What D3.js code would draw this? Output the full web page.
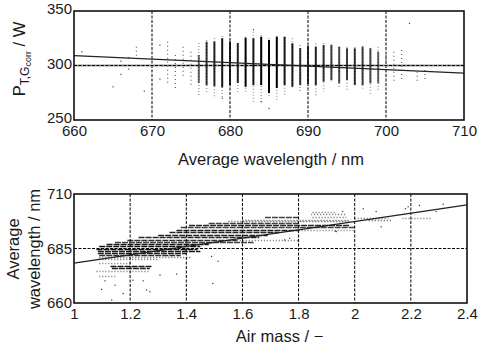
<!DOCTYPE html>
<meta charset="utf-8">
<script src="https://d3js.org/d3.v7.min.js"></script>
<style>
  body { margin: 0; background: #fff; }
  text { font-family: "Liberation Sans", Arial, sans-serif; fill: #1a1a1a; }
</style>
<svg></svg>

<script>
    // ---- top panel: power vs average wavelength ----
    const topXTicks = [660, 670, 680, 690, 700, 710];
    const topYTicks = [250, 300, 350];

    // dense columns, one per integer wavelength (W)
    const colWl     = [676, 677, 678, 679, 680, 681, 682, 683, 684, 685, 686, 687, 688, 689, 690, 691, 692, 693, 694, 695, 696, 697, 698, 699];
    const colCoreHi = [309.6, 321.8, 322, 325, 322, 320.6, 325.5, 325, 326.4, 323.4, 326.4, 326.4, 320.4, 316, 318, 317.2, 318.8, 318.8, 317.2, 315.8, 315.8, 317.2, 315.8, 312.7];
    const colCoreLo = [284, 282, 281, 280, 282, 284, 280.5, 282, 282, 274.8, 279.4, 282, 280.5, 282, 283, 282, 285.1, 286.7, 283.7, 286.7, 282, 282, 283.7, 283.7];
    const colTailHi = [320.6, 323.4, 325, 327, 325, 320.6, 326.4, 331, 328, 325, 327.3, 326.4, 325, 318.8, 321, 320.4, 320.4, 319.5, 317.2, 317.2, 317, 318.2, 316.3, 317.2];
    const colTailLo = [273, 274.8, 271, 271, 275, 276, 274.8, 266.8, 265.6, 271.4, 266.8, 271.4, 279, 276, 278, 271.4, 276, 283.7, 280.5, 277.5, 282, 279, 273.9, 277.5];
    const colDensity = [0.6, 0.8, 0.85, 0.9, 0.85, 0.85, 1, 0.9, 1, 1, 1, 0.9, 0.9, 0.8, 0.8, 0.85, 0.8, 0.75, 0.7, 0.75, 0.8, 0.75, 0.7, 0.6];

    // sparse columns
    const sparseWl = [668, 672, 673, 674, 675, 700, 701, 702, 704, 705];
    const sparseHi = [317.2, 321.8, 309.6, 317.2, 312.7, 309.6, 312.7, 314.2, 294.3, 295.9];
    const sparseLo = [306.9, 284, 279.4, 288.8, 279.6, 288.5, 283.7, 286.7, 285.1, 286.7];

    // isolated points
    const topDotWl = [661, 665, 666, 666, 667, 667, 669, 671, 671, 703, 685, 684, 679, 683];
    const topDotP  = [312.7, 280.5, 304.1, 292, 296.8, 307.2, 276.6, 318.8, 287.6, 338.7, 260.7, 266.8, 270, 333];

    const topFitWl = [660, 710];
    const topFitP  = [309, 293];

    // ---- bottom panel: average wavelength vs air mass ----
    const botXTicks = [1, 1.2, 1.4, 1.6, 1.8, 2, 2.2, 2.4];
    const botYTicks = [660, 685, 710];

    // horizontal streaks: wavelength, air mass from, air mass to, density
    const streakWl   = [701.6, 700.6, 699.5, 699.5, 699, 699, 698.3, 698, 697.5, 696.7, 695.7, 694.9, 693.7, 693.7, 692.6, 691.4, 690.3, 689.1, 689.1, 688, 687, 686, 685, 684, 683, 682, 681, 680, 678.5, 677, 676, 674.5, 672.5];
    const streakFrom = [1.85, 1.845, 1.68, 1.85, 2.0, 2.17, 1.60, 2.05, 1.55, 1.48, 1.41, 1.38, 1.365, 1.80, 1.34, 1.30, 1.23, 1.19, 1.58, 1.146, 1.116, 1.09, 1.08, 1.085, 1.085, 1.09, 1.09, 1.09, 1.09, 1.13, 1.135, 1.08, 1.09];
    const streakTo   = [1.93, 1.97, 1.80, 1.97, 2.12, 2.27, 1.98, 2.13, 1.98, 1.80, 1.98, 2.0, 1.80, 2.0, 1.73, 1.69, 1.66, 1.58, 1.80, 1.64, 1.48, 1.45, 1.44, 1.45, 1.40, 1.38, 1.42, 1.30, 1.20, 1.28, 1.27, 1.27, 1.15];
    const streakDensity = [0.35, 0.4, 0.6, 0.4, 0.35, 0.3, 0.45, 0.5, 0.55, 0.6, 0.75, 0.6, 0.8, 0.3, 0.75, 0.8, 0.75, 0.7, 0.3, 0.6, 0.85, 0.9, 0.9, 0.85, 0.8, 0.7, 0.45, 0.35, 0.3, 0.85, 0.8, 0.3, 0.25];

    const botDotAm = [1.098, 1.134, 1.175, 1.258, 1.27, 1.146, 1.11, 1.21, 1.246, 1.306, 1.365, 1.494, 1.513, 1.49, 1.75, 1.768, 1.934, 1.957, 2.076, 2.19, 2.23, 2.315, 2.29, 1.93, 2.094, 2.03, 2.18];
    const botDotWl = [666.3, 661.4, 664.4, 666, 665.2, 668.2, 670.2, 670.5, 670.2, 672.8, 673.3, 669, 679.2, 681.4, 689, 689.7, 692.8, 702, 702, 704.2, 704.8, 705.3, 702, 693, 695, 703.3, 703.3];

    const botFitAm = [1, 2.4];
    const botFitWl = [678.3, 705];

    const svg = d3.select("svg").attr("width", 481).attr("height", 349);

    // ================= top panel =================
    const t = {left: 74, right: 464, top: 11, bottom: 120};
    const xT = d3.scaleLinear().domain([660, 710]).range([t.left, t.right]);
    const yT = d3.scaleLinear().domain([250, 350]).range([t.bottom, t.top]);
    const gT = svg.append("g");

    gT.selectAll(".vgrid").data([670, 680, 690, 700]).join("line")
        .attr("x1", d => xT(d)).attr("x2", d => xT(d))
        .attr("y1", t.top).attr("y2", t.bottom)
        .attr("stroke", "#000").attr("stroke-width", 1).attr("stroke-dasharray", "3,1.5");
    gT.append("line")
        .attr("x1", t.left).attr("x2", t.right).attr("y1", yT(300)).attr("y2", yT(300))
        .attr("stroke", "#999").attr("stroke-width", 2);
    gT.append("line")
        .attr("x1", t.left).attr("x2", t.right).attr("y1", yT(300)).attr("y2", yT(300))
        .attr("stroke", "#000").attr("stroke-width", 1).attr("stroke-dasharray", "3,1.5");

    const cols = colWl.map((w, i) => ({w, hi: colCoreHi[i], lo: colCoreLo[i], th: colTailHi[i], tl: colTailLo[i], d: colDensity[i]}));
    gT.selectAll(".tail").data(cols).join("line")
        .attr("x1", d => xT(d.w)).attr("x2", d => xT(d.w))
        .attr("y1", d => yT(d.th)).attr("y2", d => yT(d.tl))
        .attr("stroke", "#666").attr("stroke-width", 1.5).attr("stroke-dasharray", "1,2").attr("opacity", 0.6);
    gT.selectAll(".core").data(cols).join("rect")
        .attr("x", d => xT(d.w) - 1).attr("width", 2)
        .attr("y", d => yT(d.hi)).attr("height", d => yT(d.lo) - yT(d.hi))
        .attr("fill", "#000").attr("opacity", d => d.d);

    const sparse = sparseWl.map((w, i) => ({w, hi: sparseHi[i], lo: sparseLo[i]}));
    gT.selectAll(".sparse").data(sparse).join("line")
        .attr("x1", d => xT(d.w)).attr("x2", d => xT(d.w))
        .attr("y1", d => yT(d.hi)).attr("y2", d => yT(d.lo))
        .attr("stroke", "#666").attr("stroke-width", 1.2).attr("stroke-dasharray", "1,3");
    gT.selectAll(".dot").data(topDotWl.map((w, i) => [w, topDotP[i]])).join("rect")
        .attr("x", d => xT(d[0]) - 0.5).attr("y", d => yT(d[1]) - 0.5)
        .attr("width", 1.2).attr("height", 1.2).attr("fill", "#444");

    gT.append("line")
        .attr("x1", xT(topFitWl[0])).attr("y1", yT(topFitP[0]))
        .attr("x2", xT(topFitWl[1])).attr("y2", yT(topFitP[1]))
        .attr("stroke", "#222").attr("stroke-width", 1.2);

    gT.append("rect")
        .attr("x", t.left).attr("y", t.top).attr("width", t.right - t.left).attr("height", t.bottom - t.top)
        .attr("fill", "none").attr("stroke", "#111").attr("stroke-width", 1.6);

    gT.append("g").attr("transform", `translate(0,${t.bottom})`)
        .call(d3.axisBottom(xT).tickValues(topXTicks).tickSize(0).tickPadding(5))
        .call(g => g.select(".domain").remove())
        .call(g => g.selectAll("text").attr("font-size", 15).style("font-family", "Liberation Sans, Arial"));
    gT.append("g").attr("transform", `translate(${t.left},-2)`)
        .call(d3.axisLeft(yT).tickValues(topYTicks).tickSize(0).tickPadding(2))
        .call(g => g.select(".domain").remove())
        .call(g => g.selectAll("text").attr("font-size", 15).style("font-family", "Liberation Sans, Arial"));

    svg.append("text")
        .attr("x", (t.left + t.right) / 2 + 2).attr("y", 165)
        .attr("text-anchor", "middle").attr("font-size", 16.5)
        .text("Average wavelength / nm");

    const yl = svg.append("text")
        .attr("transform", "translate(25,59) rotate(-90)")
        .attr("text-anchor", "middle").attr("font-size", 16.5);
    yl.append("tspan").text("P");
    yl.append("tspan").attr("font-size", 12).attr("dy", 4).text("T,G");
    yl.append("tspan").attr("font-size", 9).attr("dy", 2).text("corr");
    yl.append("tspan").attr("dy", -6).text(" / W");

    // ================= bottom panel =================
    const b = {left: 74, right: 467, top: 194, bottom: 303};
    const xB = d3.scaleLinear().domain([1, 2.4]).range([b.left, b.right]);
    const yB = d3.scaleLinear().domain([660, 710]).range([b.bottom, b.top]);
    const gB = svg.append("g");

    gB.selectAll(".vgrid").data([1.2, 1.4, 1.6, 1.8, 2, 2.2]).join("line")
        .attr("x1", d => xB(d)).attr("x2", d => xB(d))
        .attr("y1", b.top).attr("y2", b.bottom)
        .attr("stroke", "#000").attr("stroke-width", 1).attr("stroke-dasharray", "3,1.5");
    gB.append("line")
        .attr("x1", b.left).attr("x2", b.right).attr("y1", yB(685)).attr("y2", yB(685))
        .attr("stroke", "#000").attr("stroke-width", 1).attr("stroke-dasharray", "3,1.5");

    const streaks = streakWl.map((w, i) => ({w, a: streakFrom[i], z: streakTo[i], d: streakDensity[i]}));
    gB.selectAll(".streak").data(streaks).join("line")
        .attr("x1", d => xB(d.a)).attr("x2", d => xB(d.z))
        .attr("y1", d => Math.round(yB(d.w)) + 0.5).attr("y2", d => Math.round(yB(d.w)) + 0.5)
        .attr("stroke", "#000").attr("stroke-width", 1.4)
        .attr("stroke-dasharray", d => d.d >= 0.6 ? "6,1" : "1,2")
        .attr("opacity", d => 0.35 + 0.65 * d.d);
    gB.selectAll(".dot").data(botDotAm.map((a, i) => [a, botDotWl[i]])).join("rect")
        .attr("x", d => xB(d[0]) - 0.5).attr("y", d => yB(d[1]) - 0.5)
        .attr("width", 1.2).attr("height", 1.2).attr("fill", "#333");

    gB.append("line")
        .attr("x1", xB(botFitAm[0])).attr("y1", yB(botFitWl[0]))
        .attr("x2", xB(botFitAm[1])).attr("y2", yB(botFitWl[1]))
        .attr("stroke", "#222").attr("stroke-width", 1.2);

    gB.append("rect")
        .attr("x", b.left).attr("y", b.top).attr("width", b.right - b.left).attr("height", b.bottom - b.top)
        .attr("fill", "none").attr("stroke", "#111").attr("stroke-width", 1.6);

    gB.append("g").attr("transform", `translate(0,${b.bottom})`)
        .call(d3.axisBottom(xB).tickValues(botXTicks).tickFormat(d3.format("~g")).tickSize(0).tickPadding(5))
        .call(g => g.select(".domain").remove())
        .call(g => g.selectAll("text").attr("font-size", 15).style("font-family", "Liberation Sans, Arial"));
    gB.append("g").attr("transform", `translate(${b.left},0)`)
        .call(d3.axisLeft(yB).tickValues(botYTicks).tickSize(0).tickPadding(2))
        .call(g => g.select(".domain").remove())
        .call(g => g.selectAll("text").attr("font-size", 15).style("font-family", "Liberation Sans, Arial"));

    svg.append("text")
        .attr("x", (b.left + b.right) / 2 + 9).attr("y", 342)
        .attr("text-anchor", "middle").attr("font-size", 16.5)
        .text("Air mass / \u2212");

    svg.append("text")
        .attr("transform", "translate(19,249) rotate(-90)")
        .attr("text-anchor", "middle").attr("font-size", 16.5)
        .text("Average");
    svg.append("text")
        .attr("transform", "translate(40,249) rotate(-90)")
        .attr("text-anchor", "middle").attr("font-size", 16.5)
        .text("wavelength / nm");
</script>
